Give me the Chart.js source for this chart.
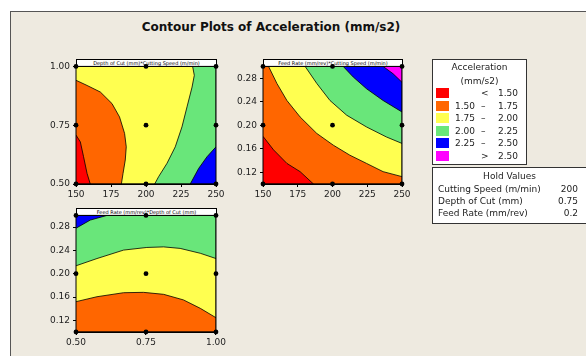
<!DOCTYPE html>
<html>
<head>
<meta charset="utf-8">
<script src="https://cdn.jsdelivr.net/npm/chart.js@4/dist/chart.umd.min.js"></script>
<style>
  body { margin: 0; background: #fff; width: 586px; height: 356px; overflow: hidden; position: relative; font-family: "DejaVu Sans", sans-serif; }
  #frame { position: absolute; left: 10px; top: 11px; width: 600px; height: 400px; background: #EEEAE0; border-left: 1px solid #555; border-top: 1px solid #555; }
  #title { position: absolute; left: 0; top: 20px; width: 542px; text-align: center; font-weight: bold; font-size: 12px; color: #111; }
  .bar { position: absolute; box-sizing: border-box; height: 8px; background: #fff; border: 1px solid #000; font-size: 5px; line-height: 6px; text-align: center; color: #000; white-space: nowrap; overflow: hidden; }
  .panel { position: absolute; }
  .box { position: absolute; box-sizing: border-box; background: #fff; border: 1px solid #333; }
  .t { position: absolute; font-size: 9px; color: #222; white-space: nowrap; line-height: 10px; }
  .sw { position: absolute; width: 13px; height: 10px; }
</style>
</head>
<body>
<div id="frame"></div>
<div id="title">Contour Plots of Acceleration (mm/s2)</div>
<div class="bar" style="left:76px;top:59px;width:141px;">Depth of Cut (mm)*Cutting Speed (m/min)</div>
<div class="bar" style="left:263px;top:59px;width:140px;">Feed Rate (mm/rev)*Cutting Speed (m/min)</div>
<div class="bar" style="left:76px;top:208px;width:141px;">Feed Rate (mm/rev)*Depth of Cut (mm)</div>
<div class="panel" style="left:32px;top:58px;width:196px;height:144px;"><canvas id="c1"></canvas></div>
<div class="panel" style="left:219px;top:58px;width:195px;height:144px;"><canvas id="c2"></canvas></div>
<div class="panel" style="left:32px;top:207px;width:196px;height:143px;"><canvas id="c3"></canvas></div>
<div class="box" id="legend" style="left:432px;top:59px;width:95px;height:106px;"></div>
<div class="box" id="hold" style="left:432px;top:167px;width:160px;height:57px;"></div>
<script>
// contour levels (mm/s2) and fill colours
var levelColors = ['#FF0000', '#FF6600', '#FFFF50', '#69E67A', '#0000FF', '#FF00FF'];
var levelLow = ['', '1.50', '1.75', '2.00', '2.25', ''];
var levelSign = ['<', '\u2013', '\u2013', '\u2013', '\u2013', '>'];
var levelHigh = ['1.50', '1.75', '2.00', '2.25', '2.50', '2.50'];

var holdNames = ['Cutting Speed (m/min)', 'Depth of Cut (mm)', 'Feed Rate (mm/rev)'];
var holdValues = ['200', '0.75', '0.2'];

// axes
var speedTicks = [150, 175, 200, 225, 250];
var depthTicks = [0.50, 0.75, 1.00];
var feedTicks = [0.12, 0.16, 0.20, 0.24, 0.28];
var speedRange = [150, 250];
var depthRange = [0.50, 1.00];
var feedRange = [0.10, 0.30];

// design points
var designSpeed = [150, 200, 250];
var designDepth = [0.50, 0.75, 1.00];
var designFeed = [0.10, 0.20, 0.30];

// panel 1: depth of cut (y) vs cutting speed (x) -- contour lines
var p1RedOrange = [[150, 0.708], [153.1, 0.679], [155.4, 0.616], [157.9, 0.545], [160.2, 0.5]];
var p1OrangeYellow = [[150, 0.941], [157.9, 0.919], [167.4, 0.891], [175.7, 0.842], [181.1, 0.785], [184.7, 0.715], [185.9, 0.658], [185.2, 0.602], [183.6, 0.545], [182.4, 0.5]];
var p1YellowGreen = [[233.3, 1.0], [234.5, 0.962], [232.9, 0.912], [229.3, 0.828], [225.7, 0.743], [220.9, 0.658], [215, 0.588], [209, 0.531], [206.2, 0.5]];
var p1GreenBlue = [[250, 0.658], [243.6, 0.616], [237.6, 0.566], [231.6, 0.5]];

// panel 2: feed rate (y) vs cutting speed (x)
var p2RedOrange = [[150, 0.181], [157.6, 0.158], [167.2, 0.135], [176.7, 0.121], [186.3, 0.10]];
var p2OrangeYellow = [[154, 0.30], [160, 0.271], [167.2, 0.242], [176.7, 0.214], [188.7, 0.186], [200.6, 0.166], [212.5, 0.149], [224.5, 0.135], [236.4, 0.121], [250, 0.1125]];
var p2YellowGreen = [[180.3, 0.30], [188.7, 0.271], [198.2, 0.242], [210.2, 0.217], [224.5, 0.197], [238.8, 0.180], [250, 0.169]];
var p2GreenBlue = [[207.7, 0.30], [214.9, 0.282], [224.5, 0.262], [236.4, 0.242], [250, 0.2225]];
var p2BlueMagenta = [[236.4, 0.30], [243.6, 0.2875], [250, 0.273]];

// panel 3: feed rate (y) vs depth of cut (x)
var p3OrangeYellow = [[0.5, 0.152], [0.575, 0.1605], [0.670, 0.1674], [0.741, 0.168], [0.813, 0.1646], [0.884, 0.155], [0.944, 0.1406], [1.0, 0.1245]];
var p3YellowGreen = [[0.5, 0.2136], [0.575, 0.226], [0.670, 0.2405], [0.753, 0.245], [0.813, 0.246], [0.872, 0.2434], [0.944, 0.235], [1.0, 0.226]];
var p3GreenBlue = [[0.5, 0.278], [0.551, 0.292], [0.611, 0.30]];

Chart.defaults.font.family = '"DejaVu Sans", sans-serif';
Chart.defaults.font.size = 9;
Chart.defaults.color = '#222';

function pts(arr) {
  return arr.map(function (p) { return { x: p[0], y: p[1] }; });
}

// a filled region bounded by a contour line and the plot edges
function region(points, color) {
  return {
    data: pts(points),
    showLine: true,
    fill: 'shape',
    backgroundColor: color,
    borderColor: '#000',
    borderWidth: 0.8,
    pointRadius: 0,
    tension: 0
  };
}

function grid(xs, ys) {
  var d = [];
  xs.forEach(function (x) { ys.forEach(function (y) { d.push([x, y]); }); });
  return d;
}

function axis(range, ticks, dec, isX) {
  return {
    type: 'linear',
    min: range[0],
    max: range[1],
    afterBuildTicks: function (s) { s.ticks = ticks.map(function (v) { return { value: v }; }); },
    afterFit: function (s) { if (isX) s.height = 18; else s.width = 44; },
    grid: { display: true, drawOnChartArea: false, drawTicks: true, tickLength: 3, color: '#000' },
    border: { display: true, color: '#000' },
    ticks: { padding: isX ? 2 : 3, maxRotation: 0, autoSkip: false, callback: function (v) { return Number(v).toFixed(dec); } }
  };
}

var framePlugin = {
  id: 'frame',
  beforeDatasetDraw: function (chart, args) {
    if (args.index !== 0) return;
    var a = chart.chartArea, ctx = chart.ctx;
    ctx.save();
    ctx.strokeStyle = '#000';
    ctx.lineWidth = 1;
    ctx.strokeRect(a.left, a.top, a.right - a.left, a.bottom - a.top);
    ctx.restore();
  }
};

function makePanel(id, xr, xt, xd, yr, yt, yd, layers, design) {
  // layers go bottom to top; the design dots are dataset 0 and drawn last
  var datasets = [{
    data: pts(design),
    showLine: false,
    pointRadius: 2.4,
    pointBackgroundColor: '#000',
    pointBorderColor: '#000',
    pointBorderWidth: 0,
    clip: false,
    order: 0
  }];
  layers.forEach(function (l, i) {
    var ds = region(l[0], l[1]);
    ds.order = layers.length - i;
    datasets.push(ds);
  });
  new Chart(document.getElementById(id), {
    type: 'line',
    data: { datasets: datasets },
    options: {
      responsive: true,
      maintainAspectRatio: false,
      animation: false,
      layout: { padding: { left: 0, top: 8, right: 12, bottom: 0 } },
      plugins: { legend: { display: false }, tooltip: { enabled: false } },
      scales: { x: axis(xr, xt, xd, true), y: axis(yr, yt, yd, false) }
    },
    plugins: [framePlugin]
  });
}

var c = levelColors;
var s0 = speedRange[0], s1 = speedRange[1];
var d0 = depthRange[0], d1 = depthRange[1];
var f0 = feedRange[0], f1 = feedRange[1];

makePanel('c1', speedRange, speedTicks, 0, depthRange, depthTicks, 2, [
  [[[s0, d0], [s1, d0], [s1, d1], [s0, d1]], c[1]],
  [p1RedOrange.concat([[s0, d0]]), c[0]],
  [p1OrangeYellow.concat([[s1, d0], [s1, d1], [s0, d1]]), c[2]],
  [p1YellowGreen.concat([[s1, d0], [s1, d1]]), c[3]],
  [p1GreenBlue.concat([[s1, d0]]), c[4]]
], grid(designSpeed, designDepth));

makePanel('c2', speedRange, speedTicks, 0, feedRange, feedTicks, 2, [
  [[[s0, f0], [s1, f0], [s1, f1], [s0, f1]], c[1]],
  [p2RedOrange.concat([[s0, f0]]), c[0]],
  [p2OrangeYellow.concat([[s1, f1]]), c[2]],
  [p2YellowGreen.concat([[s1, f1]]), c[3]],
  [p2GreenBlue.concat([[s1, f1]]), c[4]],
  [p2BlueMagenta.concat([[s1, f1]]), c[5]]
], grid(designSpeed, designFeed));

makePanel('c3', depthRange, depthTicks, 2, feedRange, feedTicks, 2, [
  [[[d0, f0], [d1, f0], [d1, f1], [d0, f1]], c[1]],
  [p3OrangeYellow.concat([[d1, f1], [d0, f1]]), c[2]],
  [p3YellowGreen.concat([[d1, f1], [d0, f1]]), c[3]],
  [p3GreenBlue.concat([[d0, f1]]), c[4]]
], grid(designDepth, designFeed));

// legend box
function txt(parent, s, left, top, align, width) {
  var e = document.createElement('div');
  e.className = 't';
  e.textContent = s;
  e.style.top = top + 'px';
  if (align === 'center') { e.style.left = left + 'px'; e.style.width = width + 'px'; e.style.textAlign = 'center'; }
  else if (align === 'right') { e.style.left = (left - 60) + 'px'; e.style.width = '60px'; e.style.textAlign = 'right'; }
  else { e.style.left = left + 'px'; }
  parent.appendChild(e);
}
var lg = document.getElementById('legend');
txt(lg, 'Acceleration', 0, 2, 'center', 93);
txt(lg, '(mm/s2)', 0, 16, 'center', 93);
levelColors.forEach(function (col, i) {
  var y = 28 + i * 12.6;
  var sw = document.createElement('div');
  sw.className = 'sw';
  sw.style.left = '3px';
  sw.style.top = y + 'px';
  sw.style.background = col;
  lg.appendChild(sw);
  txt(lg, levelLow[i], 42, y, 'right');
  txt(lg, levelSign[i], 48, y);
  txt(lg, levelHigh[i], 85, y, 'right');
});

var hd = document.getElementById('hold');
txt(hd, 'Hold Values', 0, 3, 'center', 153);
holdNames.forEach(function (n, i) {
  var y = 16 + i * 12.2;
  txt(hd, n, 5, y);
  txt(hd, holdValues[i], 145, y, 'right');
});
</script>
</body>
</html>
